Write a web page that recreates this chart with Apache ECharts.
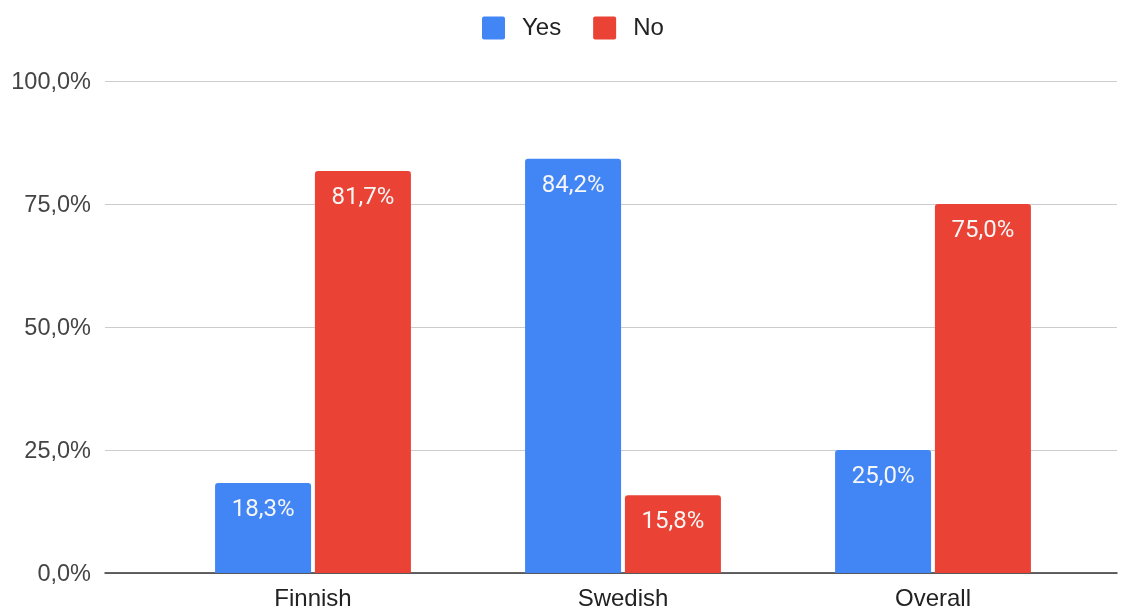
<!DOCTYPE html>
<html>
<head>
<meta charset="utf-8">
<script src="https://cdn.jsdelivr.net/npm/echarts@6/dist/echarts.min.js"></script>
<style>
  html, body { margin: 0; padding: 0; background: #ffffff; }
  #chart { width: 1131px; height: 608px; }
</style>
</head>
<body>
<div id="chart"></div>
<script>
// Survey answers by language group (percent)
const categories = ['Finnish', 'Swedish', 'Overall'];
const yesValues = [18.3, 84.2, 25.0];
const noValues = [81.7, 15.8, 75.0];
const yTicks = [0, 25, 50, 75, 100];

const fmt = v => v.toFixed(1).replace('.', ',') + '%';

const chart = echarts.init(document.getElementById('chart'), null, { renderer: 'canvas' });

const labelStyle = {
  show: true,
  position: 'insideTop',
  distance: 15,
  color: '#f6f6f6',
  fontFamily: 'Roboto',
  fontSize: 24,
  formatter: p => fmt(p.value)
};

chart.setOption({
  animation: false,
  legend: {
    top: 16,
    left: 482,
    padding: 0,
    itemWidth: 23,
    itemHeight: 23,
    itemGap: 32,
    icon: 'path://M2,0 L21,0 Q23,0 23,2 L23,21 Q23,23 21,23 L2,23 Q0,23 0,21 L0,2 Q0,0 2,0 Z',
    textStyle: { fontFamily: 'Liberation Sans', fontSize: 24, color: '#222222', padding: [0, 0, 0, 12] },
    data: ['Yes', 'No']
  },
  grid: [
    // full-width frame carrying the gridlines and value labels
    { left: 105, right: 14, top: 81, bottom: 35, outerBoundsMode: 'none' },
    // inner band that holds the category columns
    { left: 158, right: 43, top: 81, bottom: 35, outerBoundsMode: 'none' }
  ],
  xAxis: [
    {
      gridIndex: 0, type: 'category', data: [''],
      axisLine: { show: true, lineStyle: { color: '#333333', width: 1.5 } },
      axisTick: { show: false }, axisLabel: { show: false }
    },
    {
      gridIndex: 1, type: 'category', data: categories,
      axisLine: { show: false }, axisTick: { show: false },
      axisLabel: { color: '#222222', fontFamily: 'Liberation Sans', fontSize: 24, margin: 14 }
    }
  ],
  yAxis: [
    {
      gridIndex: 0, type: 'value', min: yTicks[0], max: yTicks[yTicks.length - 1], interval: 25,
      axisLine: { show: false }, axisTick: { show: false },
      axisLabel: {
        margin: 14,
        formatter: v => '{t|' + fmt(v) + '}',
        rich: { t: { color: '#444444', fontFamily: 'Liberation Sans', fontSize: 23.5, padding: [4, 0, 0, 0] } }
      },
      splitLine: { lineStyle: { color: '#cccccc', width: 1 } }
    },
    {
      gridIndex: 1, type: 'value', min: 0, max: 100, interval: 25,
      show: false, splitLine: { show: false }
    }
  ],
  series: [
    {
      name: 'Yes', type: 'bar', xAxisIndex: 1, yAxisIndex: 1,
      data: yesValues, barWidth: 96, barGap: '4%',
      itemStyle: { color: '#4285f4', borderRadius: [3, 3, 0, 0] },
      label: labelStyle
    },
    {
      name: 'No', type: 'bar', xAxisIndex: 1, yAxisIndex: 1,
      data: noValues, barWidth: 96, barGap: '4%',
      itemStyle: { color: '#ea4335', borderRadius: [3, 3, 0, 0] },
      label: labelStyle
    }
  ]
});
</script>
</body>
</html>
